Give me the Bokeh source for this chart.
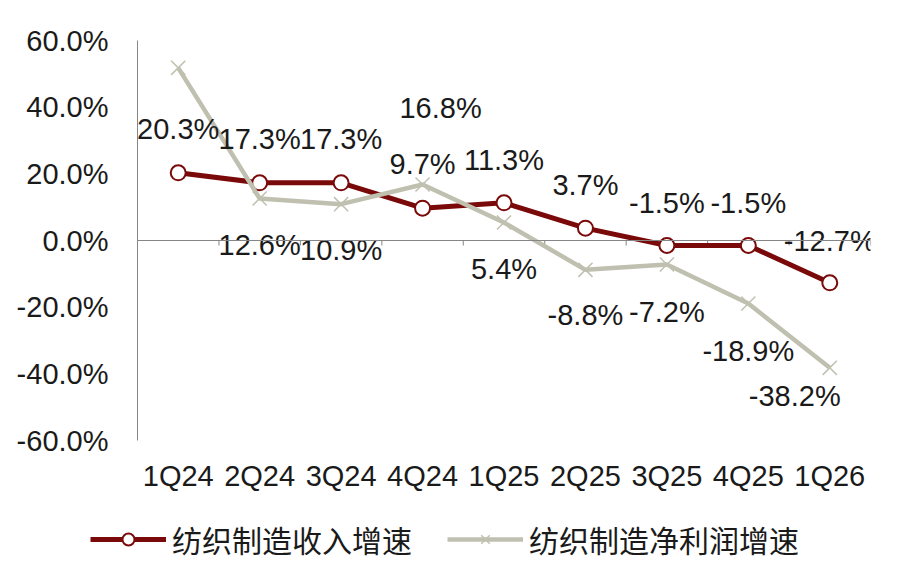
import numpy as np
from bokeh.plotting import figure
from bokeh.layouts import column
from bokeh.models import (Range1d, FixedTicker, PrintfTickFormatter, Span,
                          Legend, LegendItem, ColumnDataSource)
from bokeh.core.properties import value
from bokeh.embed import file_html
from bokeh.resources import INLINE

# ---- data ----
quarters = ["1Q24", "2Q24", "3Q24", "4Q24", "1Q25", "2Q25", "3Q25", "4Q25", "1Q26"]
revenue_growth = [20.3, 17.3, 17.3, 9.7, 11.3, 3.7, -1.5, -1.5, -12.7]
profit_growth = [51.8, 12.6, 10.9, 16.8, 5.4, -8.8, -7.2, -18.9, -38.2]
y_ticks = [-60, -40, -20, 0, 20, 40, 60]
series_names = ["纺织制造收入增速", "纺织制造净利润增速"]

# ---- label placement (style, screen pixels; positive dy = down) ----
rev_dx = [0] * 9
rev_dy = [-44, -44, -44, -44, -43, -43, -43, -43, -42]
prof_dx = [0, 0, 0, 18, 0, 0, 0, 0, -35]
prof_dy = [-44, 46, 46, -77, 46, 45, 47, 47, 28]

RED = "#7A0A0A"
GREY = "#C0C0B0"
FONT = "Liberation Sans"
TXT = "#1a1a1a"

xs = [i + 0.5 for i in range(len(quarters))]

p = figure(width=886, height=500, output_backend="svg", toolbar_location=None,
           x_range=Range1d(0, len(quarters)), y_range=Range1d(-60, 60),
           min_border_left=137, min_border_right=16, min_border_top=40,
           min_border_bottom=60)
p.frame_align = False
p.outline_line_color = None
p.background_fill_color = "white"
p.border_fill_color = "white"
p.xgrid.visible = False
p.ygrid.visible = False

# y axis
p.yaxis.ticker = FixedTicker(ticks=y_ticks)
p.yaxis.formatter = PrintfTickFormatter(format="%.1f%%")
p.yaxis.axis_line_color = "#868686"
p.yaxis.axis_line_width = 1
p.yaxis.major_tick_line_color = None
p.yaxis.minor_tick_line_color = None
p.yaxis.major_tick_out = 0
p.yaxis.minor_tick_out = 0
p.yaxis.major_label_standoff = 29
p.yaxis.major_label_text_font = FONT
p.yaxis.major_label_text_font_size = "29px"
p.yaxis.major_label_text_color = TXT

# x axis
p.xaxis.ticker = FixedTicker(ticks=xs)
p.xaxis.major_label_overrides = {x: q for x, q in zip(xs, quarters)}
p.xaxis.axis_line_color = None
p.xaxis.major_tick_line_color = None
p.xaxis.minor_tick_line_color = None
p.xaxis.major_tick_out = 0
p.xaxis.major_tick_in = 0
p.xaxis.minor_tick_out = 0
p.xaxis.major_label_standoff = 19
p.xaxis.major_label_text_font = FONT
p.xaxis.major_label_text_font_size = "29px"
p.xaxis.major_label_text_color = TXT

# zero line with category-boundary ticks
p.add_layout(Span(location=0, dimension="width", line_color="#868686", line_width=1))
bounds = list(range(1, len(quarters) + 1))
p.segment(x0=bounds, y0=[0] * len(bounds), x1=bounds, y1=[-1.5] * len(bounds),
          line_color="#868686", line_width=1)

# revenue series
p.line(xs, revenue_growth, line_color=RED, line_width=5)
p.scatter(xs, revenue_growth, marker="circle", size=15, fill_color="white",
          line_color=RED, line_width=2)

# profit series
p.line(xs, profit_growth, line_color=GREY, line_width=4.5)
p.scatter(xs, profit_growth, marker="x", size=20, line_color=GREY, line_width=1.5)

# data labels
rsrc = ColumnDataSource(dict(x=xs, y=revenue_growth,
                             t=[f"{v:.1f}%" for v in revenue_growth],
                             dx=rev_dx, dy=rev_dy))
p.text(x="x", y="y", text="t", x_offset="dx", y_offset="dy", source=rsrc,
       text_align="center", text_baseline="middle", text_font=value(FONT),
       text_font_size="29px", text_color=TXT)
gsrc = ColumnDataSource(dict(x=xs, y=profit_growth,
                             t=[f"{v:.1f}%" for v in profit_growth],
                             dx=prof_dx, dy=prof_dy))
p.text(x="x", y="y", text="t", x_offset="dx", y_offset="dy", source=gsrc,
       text_align="center", text_baseline="middle", text_font=value(FONT),
       text_font_size="29px", text_color=TXT)

# ---- legend strip (separate figure below; series drawn out of its view) ----
lg = figure(width=886, height=62, output_backend="svg", toolbar_location=None,
            x_range=Range1d(100, 101), y_range=Range1d(100, 101),
            x_axis_type=None, y_axis_type=None,
            min_border_left=0, min_border_right=0, min_border_top=0,
            min_border_bottom=0)
lg.frame_align = False
lg.outline_line_color = None
lg.xgrid.visible = False
lg.ygrid.visible = False
l1 = lg.line(xs, revenue_growth, line_color=RED, line_width=5)
m1 = lg.scatter(xs, revenue_growth, marker="circle", size=15, fill_color="white",
                line_color=RED, line_width=2)
l2 = lg.line(xs, profit_growth, line_color=GREY, line_width=4.5)
m2 = lg.scatter(xs, profit_growth, marker="x", size=20, line_color=GREY, line_width=1.5)
legend = Legend(items=[LegendItem(label=series_names[0], renderers=[l1, m1]),
                       LegendItem(label=series_names[1], renderers=[l2, m2])],
                orientation="horizontal", location=(90, 1),
                glyph_width=76, glyph_height=30, label_standoff=6, spacing=35,
                padding=0, margin=0, border_line_color=None,
                background_fill_alpha=0,
                label_text_font="Noto Sans CJK SC",
                label_text_font_size="30px", label_text_color=TXT)
lg.add_layout(legend, "center")

layout = column(p, lg, spacing=0)
open("out.html", "w").write(file_html(layout, INLINE))
